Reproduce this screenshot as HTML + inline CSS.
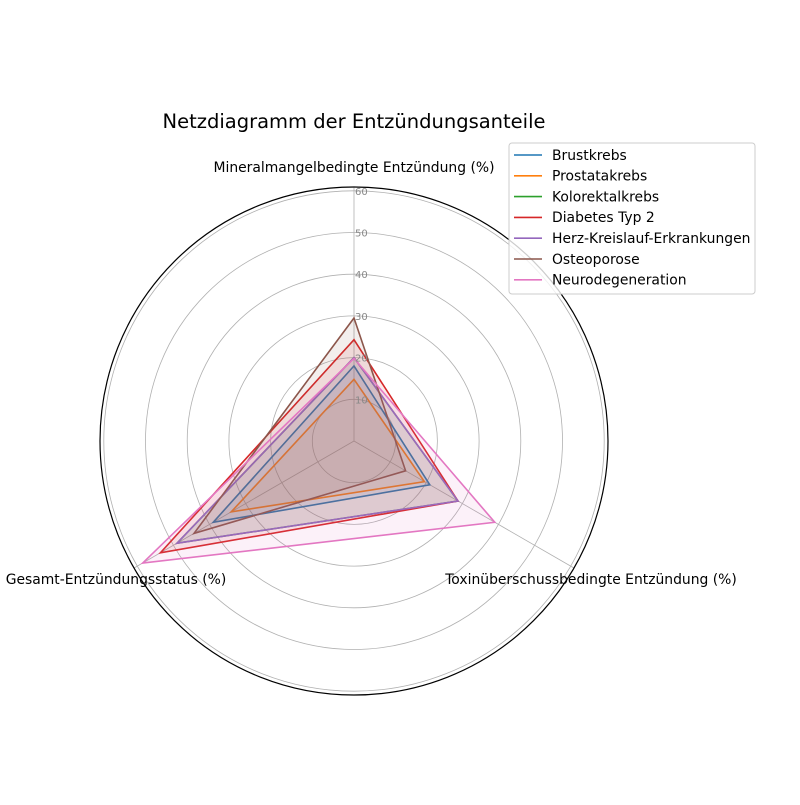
<!DOCTYPE html>
<html><head><meta charset="utf-8"><style>body{margin:0;background:#fff}svg{font-family:"DejaVu Sans","Liberation Sans",sans-serif}</style></head>
<body>
<svg id="s" width="800" height="800" xmlns="http://www.w3.org/2000/svg">
<rect width="800" height="800" fill="#fff"/>
<text x="354" y="128" font-size="19.5" text-anchor="middle" fill="#000">Netzdiagramm der Entzündungsanteile</text>
<g id="grid"></g>
<g id="series"></g>
<circle cx="354" cy="441" r="254" fill="none" stroke="#000" stroke-width="1.2"/>
<text x="354" y="172" font-size="13.9" text-anchor="middle">Mineralmangelbedingte Entzündung (%)</text>
<text x="591" y="584" font-size="13.9" text-anchor="middle">Toxinüberschussbedingte Entzündung (%)</text>
<text x="116" y="584" font-size="13.9" text-anchor="middle">Gesamt-Entzündungsstatus (%)</text>
<g id="tl"></g>
<g id="leg">
<rect x="509" y="143" width="246" height="151" rx="3" fill="#fff" fill-opacity="0.8" stroke="#ccc"/>
</g>
</svg>
<script>
const cx=354,cy=441,k=4.17,NS="http://www.w3.org/2000/svg";
function el(t,a,p){const e=document.createElementNS(NS,t);for(const x in a)e.setAttribute(x,a[x]);document.getElementById(p).appendChild(e);return e;}
const ang=[90,-30,-150].map(a=>a*Math.PI/180);
for(let v=10;v<=60;v+=10)el('circle',{cx,cy,r:v*k,fill:'none',stroke:'#b0b0b0','stroke-width':0.8},'grid');
ang.forEach(a=>el('line',{x1:cx,y1:cy,x2:cx+254*Math.cos(a),y2:cy-254*Math.sin(a),stroke:'#b0b0b0','stroke-width':0.8},'grid'));
for(let v=10;v<=60;v+=10){const t=el('text',{x:355,y:cy-v*k+4,'font-size':10,fill:'#888'},'tl');t.textContent=v;}
const S=[["Brustkrebs","#1f77b4",[18,21,39]],["Prostatakrebs","#ff7f0e",[14.8,19.5,34]],["Kolorektalkrebs","#2ca02c",[20,28.8,49]],["Diabetes Typ 2","#d62728",[24.3,28.8,53.6]],["Herz-Kreislauf-Erkrankungen","#9467bd",[20,28.8,49]],["Osteoporose","#8c564b",[29.5,14.3,44.3]],["Neurodegeneration","#e377c2",[19.8,39,58.5]]];
S.forEach((s,i)=>{const pts=s[2].map((v,j)=>(cx+v*k*Math.cos(ang[j])).toFixed(1)+','+(cy-v*k*Math.sin(ang[j])).toFixed(1)).join(' ');
el('polygon',{points:pts,fill:s[1],'fill-opacity':0.1,stroke:s[1],'stroke-width':1.6},'series');
const y=155+i*20.8;el('line',{x1:514,y1:y,x2:542,y2:y,stroke:s[1],'stroke-width':1.6},'leg');
const t=el('text',{x:552,y:y+4.8,'font-size':13.9},'leg');t.textContent=s[0];});
</script>
</body></html>
